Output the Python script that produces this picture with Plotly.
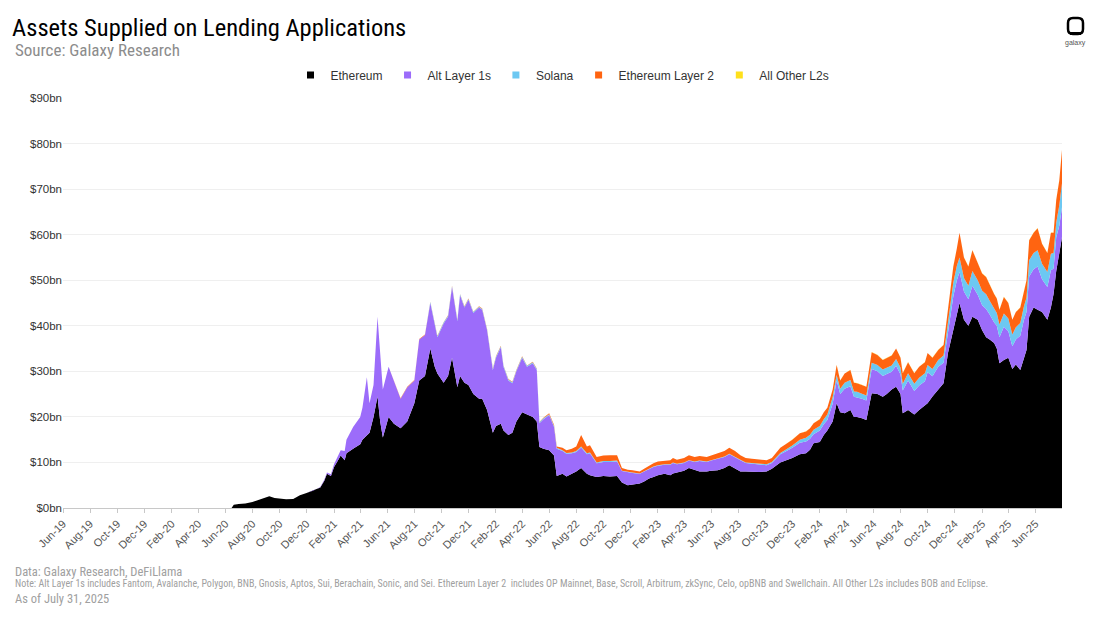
import plotly.graph_objects as go

# ---------------- data (values in $bn) ----------------
dates_1920 = ["2019-06-01", "2019-08-01", "2019-10-01", "2019-12-01", "2020-02-01", "2020-02-25",
              "2020-03-10", "2020-03-25", "2020-04-10", "2020-06-15", "2020-06-20", "2020-07-01",
              "2020-07-16", "2020-08-01", "2020-08-16", "2020-09-01", "2020-09-08", "2020-09-20",
              "2020-10-01", "2020-10-16", "2020-11-01", "2020-11-16", "2020-12-01", "2020-12-16"]
eth_1920 = [0, 0, 0, 0, 0, 0.08, 0.15, 0.05, 0, 0, 0.7, 0.9, 1.0, 1.3, 1.8, 2.3, 2.6, 2.2,
            2.1, 1.9, 2.0, 2.8, 3.3, 3.8]
alt_1920 = [0, 0, 0, 0, 0, 0, 0, 0, 0, 0, 0, 0, 0, 0, 0, 0, 0, 0, 0, 0, 0, 0, 0, 0]
sol_1920 = [0, 0, 0, 0, 0, 0, 0, 0, 0, 0, 0, 0, 0, 0, 0, 0, 0, 0, 0, 0, 0, 0, 0, 0]
l2_1920 = [0, 0, 0, 0, 0, 0, 0, 0, 0, 0, 0, 0, 0, 0, 0, 0, 0, 0, 0, 0, 0, 0, 0, 0]
oth_1920 = [0, 0, 0, 0, 0, 0, 0, 0, 0, 0, 0, 0, 0, 0, 0, 0, 0, 0, 0, 0, 0, 0, 0, 0]

dates_21 = ["2021-01-01", "2021-01-10", "2021-01-16", "2021-01-25", "2021-02-01", "2021-02-10",
            "2021-02-16", "2021-02-25", "2021-03-01", "2021-03-16", "2021-04-01", "2021-04-06",
            "2021-04-16", "2021-04-22", "2021-05-01", "2021-05-10", "2021-05-16", "2021-05-22",
            "2021-06-04", "2021-06-16", "2021-07-01", "2021-07-16", "2021-08-01", "2021-08-12",
            "2021-08-25", "2021-09-06", "2021-09-16", "2021-09-22", "2021-10-06", "2021-10-16",
            "2021-10-25", "2021-11-06", "2021-11-12", "2021-11-22", "2021-12-01", "2021-12-12",
            "2021-12-25"]
eth_21 = [4.5, 6.0, 7.5, 7.0, 9.0, 10.5, 11.5, 10.5, 12.0, 13.0, 14.0, 15.0, 16.0, 16.5,
          20.0, 24.5, 19.0, 15.5, 20.0, 18.5, 17.5, 19.0, 23.0, 28.0, 29.0, 35.0, 31.0, 29.5,
          27.5, 29.0, 33.0, 26.5, 29.0, 27.5, 27.0, 25.0, 24.0]
alt_21 = [0.1, 0.2, 0.3, 0.4, 0.6, 0.8, 1.2, 2.0, 3.0, 4.8, 6.0, 7.0, 12.7, 6.5,
          7.0, 17.5, 14.0, 10.5, 11.0, 9.5, 6.5, 7.5, 5.0, 9.0, 9.0, 10.0, 9.0, 8.0,
          13.0, 13.0, 15.5, 14.5, 17.7, 16.5, 18.7, 17.8, 20.0]
sol_21 = [0, 0, 0, 0, 0, 0, 0, 0, 0, 0, 0, 0, 0, 0, 0, 0, 0, 0, 0, 0, 0, 0, 0, 0, 0,
          0.2, 0.2, 0.2, 0.2, 0.2, 0.2, 0.2, 0.2, 0.2, 0.2, 0.2, 0.2]
l2_21 = [0, 0, 0, 0, 0, 0, 0, 0, 0, 0, 0, 0, 0, 0, 0, 0, 0, 0, 0, 0,
         0.1, 0.1, 0.1, 0.1, 0.1, 0.1, 0.1, 0.1, 0.1, 0.1, 0.1, 0.1, 0.1, 0.1, 0.1, 0.1, 0.1]
oth_21 = [0, 0, 0, 0, 0, 0, 0, 0, 0, 0, 0, 0, 0, 0, 0, 0, 0, 0, 0, 0, 0, 0, 0, 0, 0,
          0, 0, 0, 0, 0, 0, 0, 0, 0, 0, 0, 0]

dates_22 = ["2022-01-01", "2022-01-12", "2022-01-25", "2022-02-01", "2022-02-12", "2022-02-18",
            "2022-03-01", "2022-03-10", "2022-03-19", "2022-04-01", "2022-04-12", "2022-04-25",
            "2022-05-04", "2022-05-10", "2022-05-19", "2022-06-01", "2022-06-12", "2022-06-18",
            "2022-07-01", "2022-07-10", "2022-07-22", "2022-08-01", "2022-08-12", "2022-08-25",
            "2022-09-01", "2022-09-16", "2022-10-01", "2022-10-16", "2022-11-01", "2022-11-12",
            "2022-11-25", "2022-12-06", "2022-12-22"]
eth_22 = [24.0, 21.5, 16.5, 18.0, 18.5, 17.0, 16.0, 16.5, 19.0, 21.0, 20.5, 20.0,
          19.0, 13.4, 13.0, 12.7, 11.5, 7.0, 7.5, 6.9, 7.5, 8.0, 8.8, 7.5,
          7.2, 6.8, 7.0, 6.9, 7.0, 5.6, 5.0, 5.2, 5.4]
alt_22 = [19.5, 17.5, 13.8, 15.0, 16.8, 14.0, 12.0, 10.9, 11.0, 12.0, 10.5, 11.8,
          11.3, 5.2, 6.5, 7.7, 6.3, 6.0, 5.0, 5.0, 4.5, 4.3, 4.5, 4.3,
          4.8, 3.0, 3.1, 3.2, 3.2, 2.5, 2.8, 2.5, 2.1]
sol_22 = [0.2, 0.2, 0.2, 0.2, 0.2, 0.2, 0.2, 0.2, 0.2, 0.2, 0.2, 0.2,
          0.2, 0.2, 0.2, 0.2, 0.2, 0.2, 0.2, 0.2, 0.2, 0.2, 0.2, 0.2,
          0.2, 0.2, 0.2, 0.2, 0.2, 0.1, 0.1, 0.1, 0.1]
l2_22 = [0.1, 0.1, 0.1, 0.1, 0.1, 0.1, 0.1, 0.1, 0.1, 0.1, 0.1, 0.1,
         0.1, 0.1, 0.1, 0.2, 0.2, 0.3, 0.5, 0.6, 0.8, 1.0, 2.5, 1.5,
         1.6, 1.2, 1.2, 1.3, 1.2, 0.6, 0.5, 0.5, 0.4]
oth_22 = [0, 0, 0, 0, 0, 0, 0, 0, 0, 0, 0, 0, 0, 0, 0, 0, 0, 0, 0, 0, 0, 0, 0, 0,
          0, 0, 0, 0, 0, 0, 0, 0, 0]

dates_23 = ["2023-01-01", "2023-01-12", "2023-01-22", "2023-02-01", "2023-02-16", "2023-03-01",
            "2023-03-07", "2023-03-16", "2023-04-01", "2023-04-12", "2023-04-25", "2023-05-06",
            "2023-05-22", "2023-06-01", "2023-06-16", "2023-07-01", "2023-07-12", "2023-07-25",
            "2023-08-06", "2023-08-18", "2023-09-01", "2023-09-16", "2023-10-04", "2023-10-16",
            "2023-11-04", "2023-11-16", "2023-12-01", "2023-12-18"]
eth_23 = [5.8, 6.5, 6.8, 7.2, 7.5, 7.2, 7.6, 7.8, 8.2, 8.8, 8.3, 8.0, 8.0, 8.2, 8.3, 8.8,
          9.4, 8.6, 8.0, 8.0, 7.9, 7.9, 8.0, 8.6, 10.0, 10.4, 11.0, 11.8]
alt_23 = [2.2, 2.1, 2.2, 2.1, 2.0, 2.3, 2.3, 1.8, 1.7, 1.6, 1.8, 2.3, 2.1, 2.2, 2.5, 2.4,
          2.4, 2.6, 2.5, 1.9, 1.9, 1.7, 1.4, 1.3, 1.8, 2.0, 2.2, 2.5]
sol_23 = [0.1, 0.1, 0.1, 0.1, 0.1, 0.1, 0.1, 0.1, 0.1, 0.1, 0.1, 0.1, 0.1, 0.1, 0.1, 0.1,
          0.1, 0.1, 0.1, 0.1, 0.1, 0.1, 0.2, 0.2, 0.3, 0.4, 0.5, 0.7]
l2_23 = [0.5, 0.6, 0.7, 0.8, 0.8, 0.9, 1.0, 0.9, 1.0, 1.1, 1.0, 1.0, 1.0, 1.0, 1.1, 1.2,
         1.3, 1.2, 1.0, 1.0, 0.9, 0.9, 0.9, 0.9, 1.1, 1.2, 1.3, 1.4]
oth_23 = [0, 0, 0, 0, 0, 0, 0, 0, 0, 0, 0, 0, 0, 0, 0, 0, 0, 0, 0, 0, 0, 0, 0, 0,
          0.01, 0.01, 0.01, 0.02]

dates_24 = ["2024-01-01", "2024-01-10", "2024-01-18", "2024-02-01", "2024-02-10", "2024-02-18",
            "2024-03-01", "2024-03-10", "2024-03-18", "2024-03-28", "2024-04-10", "2024-04-18",
            "2024-04-25", "2024-05-06", "2024-05-16", "2024-05-28", "2024-06-10", "2024-06-22",
            "2024-07-01", "2024-07-12", "2024-07-22", "2024-08-01", "2024-08-06", "2024-08-18",
            "2024-09-01", "2024-09-12", "2024-09-25", "2024-10-01", "2024-10-12", "2024-10-25",
            "2024-11-06", "2024-11-16", "2024-11-28", "2024-12-06", "2024-12-12", "2024-12-22"]
eth_24 = [12.0, 12.8, 14.2, 14.5, 16.0, 17.0, 19.0, 23.0, 21.0, 20.8, 21.5, 20.0,
          20.0, 19.7, 19.3, 25.2, 25.0, 24.4, 25.0, 26.0, 26.6, 25.0, 20.8, 21.5,
          20.5, 21.5, 22.5, 23.0, 24.5, 26.0, 27.4, 34.0, 39.0, 42.0, 45.0, 41.3]
alt_24 = [2.6, 2.4, 2.0, 2.5, 2.4, 2.3, 3.9, 5.0, 4.0, 5.4, 5.2, 4.4,
          4.3, 4.3, 4.3, 5.3, 5.0, 4.6, 4.4, 3.9, 4.6, 4.3, 5.0, 6.5,
          5.2, 5.4, 5.3, 6.8, 4.4, 5.0, 4.5, 5.0, 7.5, 8.0, 6.8, 6.2]
sol_24 = [0.8, 0.9, 1.0, 1.0, 1.1, 1.2, 1.4, 1.2, 1.2, 1.3, 1.4, 1.2,
          1.2, 1.1, 1.1, 1.4, 1.4, 1.4, 1.4, 1.4, 1.5, 1.5, 1.5, 1.6,
          1.6, 1.7, 1.8, 1.6, 1.6, 1.5, 1.6, 2.2, 3.0, 3.2, 3.2, 3.0]
l2_24 = [1.4, 1.4, 1.4, 1.5, 1.5, 1.5, 1.7, 2.2, 1.8, 2.0, 2.2, 1.9,
         1.9, 1.9, 1.9, 2.3, 2.2, 2.1, 2.2, 2.2, 2.3, 2.2, 2.3, 2.4,
         2.3, 2.4, 2.4, 2.6, 2.5, 2.2, 2.3, 2.8, 3.5, 3.8, 5.4, 4.5]
oth_24 = [0.03, 0.03, 0.03, 0.03, 0.03, 0.03, 0.03, 0.03, 0.03, 0.03, 0.03, 0.03,
          0.03, 0.03, 0.03, 0.03, 0.03, 0.03, 0.03, 0.03, 0.03, 0.03, 0.03, 0.03,
          0.03, 0.03, 0.03, 0.03, 0.03, 0.03, 0.04, 0.04, 0.04, 0.04, 0.04, 0.04]

dates_25 = ["2025-01-01", "2025-01-10", "2025-01-22", "2025-02-01", "2025-02-10", "2025-02-18",
            "2025-02-28", "2025-03-06", "2025-03-12", "2025-03-22", "2025-04-01", "2025-04-10",
            "2025-04-18", "2025-04-28", "2025-05-06", "2025-05-12", "2025-05-18", "2025-05-28",
            "2025-06-06", "2025-06-16", "2025-06-28", "2025-07-06", "2025-07-12", "2025-07-18",
            "2025-07-25", "2025-07-31"]
eth_25 = [40.0, 42.0, 41.3, 39.0, 37.5, 37.0, 36.2, 35.0, 31.8, 32.5, 33.0, 30.5, 31.5,
          30.3, 33.0, 34.7, 42.0, 44.0, 43.5, 43.0, 41.3, 44.0, 47.0, 52.0, 56.0, 59.5]
alt_25 = [5.8, 6.8, 5.5, 5.5, 6.2, 5.5, 4.5, 5.0, 5.7, 7.3, 5.8, 5.0, 5.5,
          7.5, 8.2, 8.3, 8.8, 8.4, 9.5, 7.2, 7.2, 8.2, 5.6, 7.4, 6.0, 6.5]
sol_25 = [3.0, 3.2, 3.2, 3.2, 3.2, 3.0, 3.0, 2.8, 2.8, 2.9, 2.8, 2.6, 2.7,
          2.8, 3.0, 3.2, 3.6, 3.6, 3.6, 3.4, 3.3, 3.6, 3.4, 3.2, 4.5, 5.3]
l2_25 = [4.2, 4.6, 4.0, 3.8, 3.8, 3.5, 3.3, 3.2, 3.2, 3.6, 3.4, 3.2, 3.3,
         3.4, 3.6, 3.8, 4.4, 4.4, 4.8, 4.4, 4.2, 4.6, 4.4, 5.0, 5.5, 7.3]
oth_25 = [0.05, 0.05, 0.05, 0.05, 0.05, 0.05, 0.05, 0.05, 0.05, 0.05, 0.05, 0.05, 0.05,
          0.05, 0.05, 0.05, 0.05, 0.05, 0.05, 0.05, 0.05, 0.05, 0.05, 0.05, 0.06, 0.06]

dates = dates_1920 + dates_21 + dates_22 + dates_23 + dates_24 + dates_25
ethereum = eth_1920 + eth_21 + eth_22 + eth_23 + eth_24 + eth_25
alt_layer1 = alt_1920 + alt_21 + alt_22 + alt_23 + alt_24 + alt_25
solana = sol_1920 + sol_21 + sol_22 + sol_23 + sol_24 + sol_25
eth_layer2 = l2_1920 + l2_21 + l2_22 + l2_23 + l2_24 + l2_25
other_l2 = oth_1920 + oth_21 + oth_22 + oth_23 + oth_24 + oth_25

series_names = ["Ethereum", "Alt Layer 1s", "Solana", "Ethereum Layer 2", "All Other L2s"]
series_values = [ethereum, alt_layer1, solana, eth_layer2, other_l2]
series_colors = ["#000000", "#9C6CFA", "#6CC8F2", "#FF6411", "#FFE01B"]

for s in series_values:
    assert len(s) == len(dates)

# ---------------- figure ----------------
NARROW = "Liberation Sans Narrow, Roboto Condensed, Arial Narrow, Roboto, sans-serif"
SANS = "Liberation Sans, Arial, sans-serif"

# plot area in pixels
L_PX, R_PX, T_PX, B_PX = 63, 1062, 98, 508
W_PX, H_PX = R_PX - L_PX, B_PX - T_PX


def px_x(p):
    return (p - L_PX) / W_PX


def px_y(p):
    return (B_PX - p) / H_PX


fig = go.Figure()
for name, vals, col in zip(series_names, series_values, series_colors):
    fig.add_trace(go.Scatter(
        x=dates, y=vals, name=name, mode="lines", stackgroup="one",
        line=dict(width=0, color=col), fillcolor=col, showlegend=False,
        hovertemplate=name + ": $%{y:.1f}bn<extra></extra>"))
for name, col in zip(series_names, series_colors):
    fig.add_trace(go.Scatter(
        x=[None], y=[None], name=name, mode="markers",
        marker=dict(symbol="square", size=7, color=col), showlegend=True))

fig.update_layout(
    width=1100, height=618,
    paper_bgcolor="white", plot_bgcolor="white",
    margin=dict(l=L_PX, r=1100 - R_PX, t=T_PX, b=618 - B_PX, autoexpand=False),
    title=dict(text="Assets Supplied on Lending Applications",
               font=dict(family=NARROW, size=24.5, color="#000000", weight=400),
               xref="container", x=0.011, xanchor="left",
               yref="container", y=1 - 27 / 618, yanchor="middle"),
    legend=dict(orientation="h", x=0.5, xanchor="center",
                y=px_y(75), yanchor="middle", traceorder="normal",
                font=dict(family=SANS, size=12, color="#333333"),
                itemwidth=30, tracegroupgap=0, bgcolor="rgba(0,0,0,0)"),
    xaxis=dict(type="date", range=["2019-06-01", "2025-07-31"], automargin=False,
               tick0="2019-06-01", dtick="M2", tickformat="%b-%y", tickangle=-45,
               showgrid=False, showline=True, linecolor="#c8c8c8", linewidth=1,
               ticks="outside", ticklen=4, tickcolor="#c8c8c8",
               tickfont=dict(family=SANS, size=11, color="#555555")),
    yaxis=dict(range=[0, 90], dtick=10, tickprefix="$", ticksuffix="bn", automargin=False,
               showgrid=True, gridcolor="#efefef", gridwidth=1, zeroline=False,
               showline=False, ticks="",
               tickfont=dict(family=SANS, size=11.5, color="#333333")),
    hovermode="x unified",
)

# subtitle and footer
fig.add_annotation(text="Source: Galaxy Research", xref="paper", yref="paper",
                   x=px_x(13), y=px_y(50), xanchor="left", yanchor="middle",
                   showarrow=False, font=dict(family=NARROW, size=17, color="#8c8c8c"))
fig.add_annotation(text="Data: Galaxy Research, DeFiLlama", xref="paper", yref="paper",
                   x=px_x(13), y=px_y(571), xanchor="left", yanchor="middle",
                   showarrow=False, font=dict(family=NARROW, size=12.5, color="#a0a0a0"))
fig.add_annotation(text=("Note: Alt Layer 1s includes Fantom, Avalanche, Polygon, BNB, Gnosis, Aptos, Sui, "
                         "Berachain, Sonic, and Sei. Ethereum Layer 2  includes OP Mainnet, Base, Scroll, "
                         "Arbitrum, zkSync, Celo, opBNB and Swellchain. All Other L2s includes BOB and Eclipse."),
                   xref="paper", yref="paper",
                   x=px_x(13), y=px_y(583), xanchor="left", yanchor="middle",
                   showarrow=False, font=dict(family=NARROW, size=10, color="#a0a0a0"))
fig.add_annotation(text="As of July 31, 2025", xref="paper", yref="paper",
                   x=px_x(13), y=px_y(598), xanchor="left", yanchor="middle",
                   showarrow=False, font=dict(family=NARROW, size=12.5, color="#a0a0a0"))

# logo
x0, x1, yt, yb, r = 1068, 1083, 18, 34, 5
path = (f"M {px_x(x0 + r)},{px_y(yt)} L {px_x(x1 - r)},{px_y(yt)} "
        f"Q {px_x(x1)},{px_y(yt)} {px_x(x1)},{px_y(yt + r)} L {px_x(x1)},{px_y(yb - r)} "
        f"Q {px_x(x1)},{px_y(yb)} {px_x(x1 - r)},{px_y(yb)} L {px_x(x0 + r)},{px_y(yb)} "
        f"Q {px_x(x0)},{px_y(yb)} {px_x(x0)},{px_y(yb - r)} L {px_x(x0)},{px_y(yt + r)} "
        f"Q {px_x(x0)},{px_y(yt)} {px_x(x0 + r)},{px_y(yt)} Z")
fig.add_shape(type="path", path=path, xref="paper", yref="paper",
              line=dict(color="#000000", width=2.5))
fig.add_shape(type="line", xref="paper", yref="paper",
              x0=px_x(x0 + 2), x1=px_x(x1 - 2), y0=px_y(yb - 0.5), y1=px_y(yb - 0.5),
              line=dict(color="#000000", width=3))
fig.add_annotation(text="galaxy", xref="paper", yref="paper",
                   x=px_x(1075.5), y=px_y(43), xanchor="center", yanchor="middle",
                   showarrow=False, font=dict(family=SANS, size=7, color="#555555"))

fig.write_html("out.html", config={"displayModeBar": False},
               post_script="document.body.style.margin='0';document.body.style.padding='0';")
